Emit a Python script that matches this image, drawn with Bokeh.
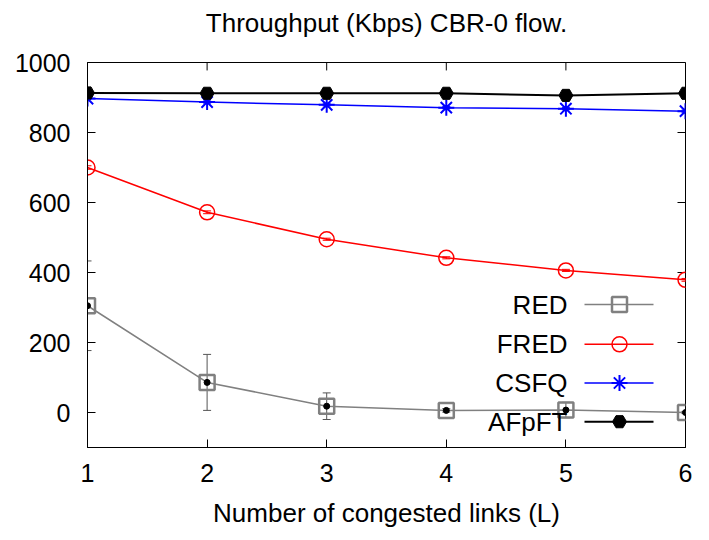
from bokeh.plotting import figure
from bokeh.models import (ColumnDataSource, Whisker, TeeHead, FixedTicker, Range1d, Label,
                          LinearAxis)
from bokeh.embed import file_html
from bokeh.resources import INLINE

# ---------------- data ----------------
links = [1, 2, 3, 4, 5, 6]
red = [305, 86, 18, 6, 7, 0]
red_err = [128, 80, 38, 5, 22, 3]
fred = [700, 572, 495, 442, 406, 379]
fred_err = [5, 4, 3, 3, 3, 4]
csfq = [897, 887, 879, 871, 868, 861]
csfq_err = [3, 3, 3, 3, 3, 3]
afpft = [913, 912, 912, 912, 906, 912]
afpft_err = [3, 3, 3, 3, 14, 3]
x_ticks = [1, 2, 3, 4, 5, 6]
y_ticks = [0, 200, 400, 600, 800, 1000]
series_names = ["RED", "FRED", "CSFQ", "AFpFT"]
title_text = "Throughput (Kbps) CBR-0 flow."
x_label = "Number of congested links (L)"

FONT = "Liberation Sans"
W, H = 700, 530
FL, FR, FT, FB = 87, 685, 62, 450  # frame edges in figure px
X0, X1, Y0, Y1 = 1, 6, -100, 1000
TICK = 8

p = figure(width=W, height=H, x_range=Range1d(X0, X1), y_range=Range1d(Y0, Y1),
           output_backend="svg", toolbar_location=None,
           min_border_left=FL, min_border_right=W - FR,
           min_border_top=FT, min_border_bottom=H - FB)
p.grid.visible = False
p.outline_line_color = "black"
p.outline_line_width = 1
p.background_fill_color = "white"
p.border_fill_color = "white"

for ax in (p.xaxis[0], p.yaxis[0]):
    ax.major_tick_in = TICK
    ax.major_tick_out = 0
    ax.minor_tick_line_color = None
    ax.major_label_text_font = FONT
    ax.major_label_text_font_size = "25px"
    ax.major_label_text_color = "black"
    ax.axis_line_color = "black"
    ax.major_tick_line_color = "black"
p.xaxis[0].ticker = FixedTicker(ticks=x_ticks)
p.yaxis[0].ticker = FixedTicker(ticks=y_ticks)
p.yaxis[0].major_label_standoff = 17
p.xaxis[0].major_label_standoff = 16
p.xaxis[0].axis_label = x_label
p.xaxis[0].axis_label_text_font = FONT
p.xaxis[0].axis_label_text_font_size = "26px"
p.xaxis[0].axis_label_text_font_style = "normal"
p.xaxis[0].axis_label_text_color = "black"
p.xaxis[0].axis_label_standoff = 13

# title carried by a tick-less axis above the frame
title_axis = LinearAxis(ticker=FixedTicker(ticks=[]), axis_line_color=None,
                        major_tick_line_color=None, minor_tick_line_color=None,
                        axis_label=title_text, axis_label_text_font=FONT,
                        axis_label_text_font_size="26px", axis_label_text_font_style="normal",
                        axis_label_text_color="black", axis_label_standoff=25,
                        major_label_standoff=0, major_tick_in=0, major_tick_out=0)
p.add_layout(title_axis, "above")


def to_x(px):
    return X0 + (px - FL) / (FR - FL) * (X1 - X0)


def to_y(py):
    return Y0 + (FB - py) / (FB - FT) * (Y1 - Y0)


# mirror ticks on top and right (inward)
dy = TICK / (FB - FT) * (Y1 - Y0)
dx = TICK / (FR - FL) * (X1 - X0)
p.segment(x0=x_ticks, y0=[Y1] * len(x_ticks), x1=x_ticks, y1=[Y1 - dy] * len(x_ticks),
          line_color="black", line_width=1)
p.segment(x0=[X1] * len(y_ticks), y0=y_ticks, x1=[X1 - dx] * len(y_ticks), y1=y_ticks,
          line_color="black", line_width=1)

# ---------------- series ----------------
styles = [
    dict(y=red, e=red_err, color="#808080", marker="square", size=15, lw=1.5, mlw=2.5, fill=None),
    dict(y=fred, e=fred_err, color="#ff0000", marker="circle", size=15, lw=1.5, mlw=1.5, fill=None),
    dict(y=csfq, e=csfq_err, color="#0000ff", marker="asterisk", size=16, lw=1.5, mlw=2, fill=None),
    dict(y=afpft, e=afpft_err, color="#000000", marker="hex", size=14, lw=2, mlw=1, fill="#000000"),
]

for s in styles:
    lo = [v - e for v, e in zip(s["y"], s["e"])]
    hi = [v + e for v, e in zip(s["y"], s["e"])]
    src = ColumnDataSource(dict(x=links, y=s["y"], lower=lo, upper=hi))
    ecol = "#555555" if s["color"] == "#808080" else s["color"]
    w = Whisker(base="x", upper="upper", lower="lower", source=src,
                line_color=ecol, line_width=1,
                upper_head=TeeHead(size=8, line_color=ecol, line_width=1),
                lower_head=TeeHead(size=8, line_color=ecol, line_width=1))
    p.add_layout(w)
    p.line("x", "y", source=src, line_color=s["color"], line_width=s["lw"])
    p.scatter("x", "y", source=src, marker=s["marker"], size=s["size"],
              line_color=s["color"], line_width=s["mlw"],
              fill_color=s["fill"] if s["fill"] else None)
    if s["color"] == "#808080":
        p.scatter("x", "y", source=src, marker="circle", size=6,
                  fill_color="black", line_color="black")

# ---------------- legend (gnuplot style: label left of sample) ----------------
row_y = [306, 346, 385, 424]
text_right, s_left, s_right, s_mid = 567, 584, 653, 619
for name, s, ry in zip(series_names, styles, row_y):
    yy = to_y(ry)
    p.add_layout(Label(x=to_x(text_right), y=yy, text=name, text_align="right",
                       text_baseline="middle", text_font=FONT, text_font_size="26px",
                       text_color="black"))
    p.line([to_x(s_left), to_x(s_right)], [yy, yy], line_color=s["color"], line_width=s["lw"])
    p.scatter([to_x(s_mid)], [yy], marker=s["marker"], size=s["size"],
              line_color=s["color"], line_width=s["mlw"],
              fill_color=s["fill"] if s["fill"] else None)

open("out.html", "w").write(file_html(p, INLINE))
